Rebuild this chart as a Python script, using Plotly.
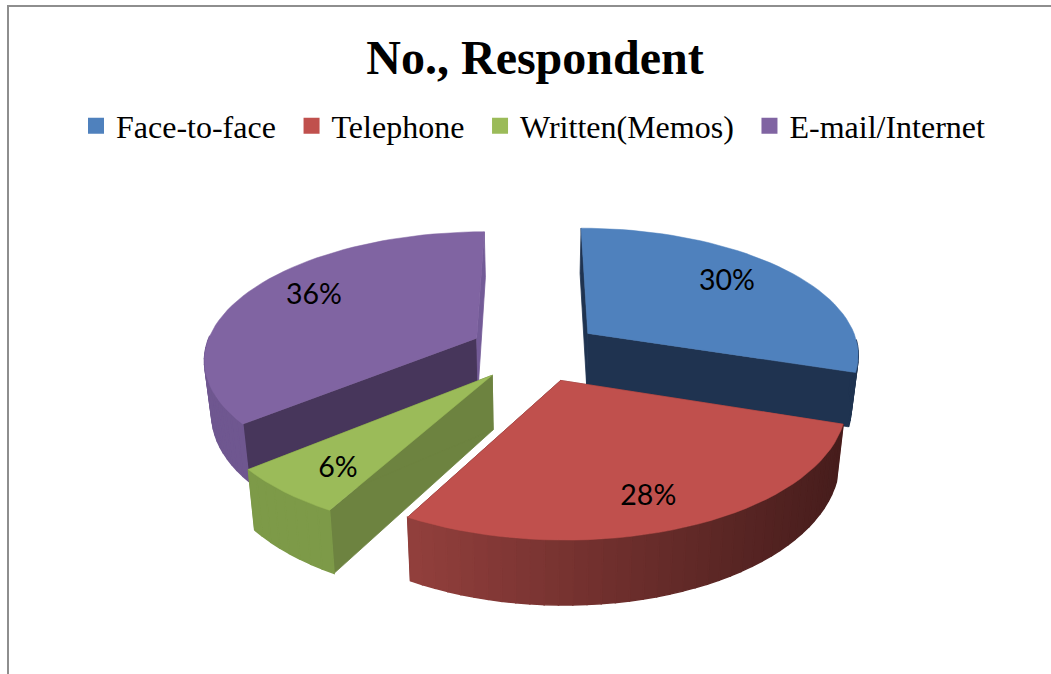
import math
import plotly.graph_objects as go

categories = ["Face-to-face", "Telephone", "Written(Memos)", "E-mail/Internet"]
shares = [30, 28, 6, 36]
title_text = "No., Respondent"

top_colors = ["#4f81bd", "#c0504d", "#9bbb59", "#8064a2"]
start_wall_colors = ["#1f3350", "#8a3a38", "#6d8340", "#47365b"]
end_wall_colors = ["#1f3350", "#6a2c2b", "#6d8340", "#735b97"]
outer_left_colors = ["#1f3350", "#923f3c", "#7d9a48", "#6f5790"]
outer_right_colors = ["#1f3350", "#471d1c", "#749040", "#6b5488"]
label_reach = [0.725, 0.81, 0.80, 0.74]
label_turn = [-2.2, 2.6, -2.6, 3.2]

# Pie geometry: centre, radius, tilt, perspective, thickness and slice pull.
CX, CY = 535.5, 351
R, TILT = 272, 0.463
PERSP, TAPER = 0.15, 0.978
THICK, PULL = 53, 66


def project(px, py, z=0.0):
    """Map a point on the pie plane to the canvas axes; z runs top to bottom."""
    s = 1 / (1 - PERSP * py / R)
    x = CX + px * s * (1 - (1 - TAPER) * z)
    y = CY + TILT * py * s + THICK * z * s
    return x, y


def mix(a, b, t):
    t = max(0.0, min(1.0, t))
    pa = [int(a[i:i + 2], 16) for i in (1, 3, 5)]
    pb = [int(b[i:i + 2], 16) for i in (1, 3, 5)]
    return "#" + "".join(f"{round(u + (v - u) * t):02x}" for u, v in zip(pa, pb))


def polygon(points, color, line=0.8):
    return go.Scatter(
        x=[p[0] for p in points] + [points[0][0]],
        y=[p[1] for p in points] + [points[0][1]],
        mode="lines",
        fill="toself",
        fillcolor=color,
        line=dict(color=color, width=line),
        hoverinfo="skip",
        showlegend=False,
    )


fig = go.Figure()

# Slice angles run clockwise from twelve o'clock, in data order.
total = sum(shares)
spans = []
angle = 0.0
for value in shares:
    sweep = 360.0 * value / total
    spans.append((angle, angle + sweep))
    angle += sweep

label_points = []
for i, (a0, a1) in enumerate(spans):
    mid = math.radians((a0 + a1) / 2)
    ox, oy = PULL * math.sin(mid), -PULL * math.cos(mid)
    steps = max(4, int((a1 - a0) / 2.5))
    rim = []
    for k in range(steps + 1):
        t = math.radians(a0 + (a1 - a0) * k / steps)
        rim.append((ox + R * math.sin(t), oy - R * math.cos(t)))
    aim = mid + math.radians(label_turn[i])
    label_points.append(
        project(ox + label_reach[i] * R * math.sin(aim), oy - label_reach[i] * R * math.cos(aim))
    )
    slice_traces = []
    apex_top, apex_bot = project(ox, oy), project(ox, oy, 1)
    slice_traces.append(polygon([apex_top, project(*rim[0]), project(*rim[0], 1), apex_bot], start_wall_colors[i]))
    slice_traces.append(polygon([apex_top, project(*rim[-1]), project(*rim[-1], 1), apex_bot], end_wall_colors[i]))
    for k in range(steps):
        p0, p1 = rim[k], rim[k + 1]
        if p0[1] + p1[1] < -60:
            continue  # far rim is hidden behind the top face
        quad = [project(*p0), project(*p1), project(*p1, 1), project(*p0, 1)]
        shade = mix(outer_left_colors[i], outer_right_colors[i], (quad[0][0] + quad[1][0] - 820) / 860)
        slice_traces.append(polygon(quad, shade, 1.5))
    slice_traces.append(polygon([apex_top] + [project(*p) for p in rim], top_colors[i], 0.5))
    spans[i] = slice_traces

# Paint back slices first so the nearer ones overlap them.
for i in (0, 3, 2, 1):
    fig.add_traces(spans[i])

fig.add_trace(go.Scatter(
    x=[p[0] for p in label_points],
    y=[p[1] for p in label_points],
    mode="text",
    text=[f"{v}%" for v in shares],
    textfont=dict(family="Lato", size=28.5, color="#000000"),
    hoverinfo="skip",
    showlegend=False,
))

for name, color in zip(categories, top_colors):
    fig.add_trace(go.Scatter(
        x=[None], y=[None], mode="markers", name=name + "\u00a0\u200a",
        marker=dict(symbol="square", size=16, color=color),
    ))

fig.update_layout(
    width=1051,
    height=674,
    margin=dict(l=0, r=0, t=0, b=0),
    paper_bgcolor="#ffffff",
    plot_bgcolor="#ffffff",
    title=dict(
        text=f"<b>{title_text}</b>",
        font=dict(family="Liberation Serif", size=48, color="#000000"),
        x=535 / 1051, xanchor="center", y=1 - 57 / 674, yanchor="middle",
    ),
    legend=dict(
        orientation="h",
        x=76 / 1051, xanchor="left",
        y=1 - 126 / 674, yanchor="middle",
        font=dict(family="Liberation Serif", size=32, color="#000000"),
        bgcolor="rgba(0,0,0,0)",
    ),
    xaxis=dict(range=[0, 1051], visible=False, fixedrange=True),
    yaxis=dict(range=[674, 0], visible=False, fixedrange=True),
    shapes=[dict(
        type="path", path="M 8 674 L 8 6 L 1051 6",
        line=dict(color="#8e8e8e", width=2),
    )],
)

fig.write_html("out.html")
